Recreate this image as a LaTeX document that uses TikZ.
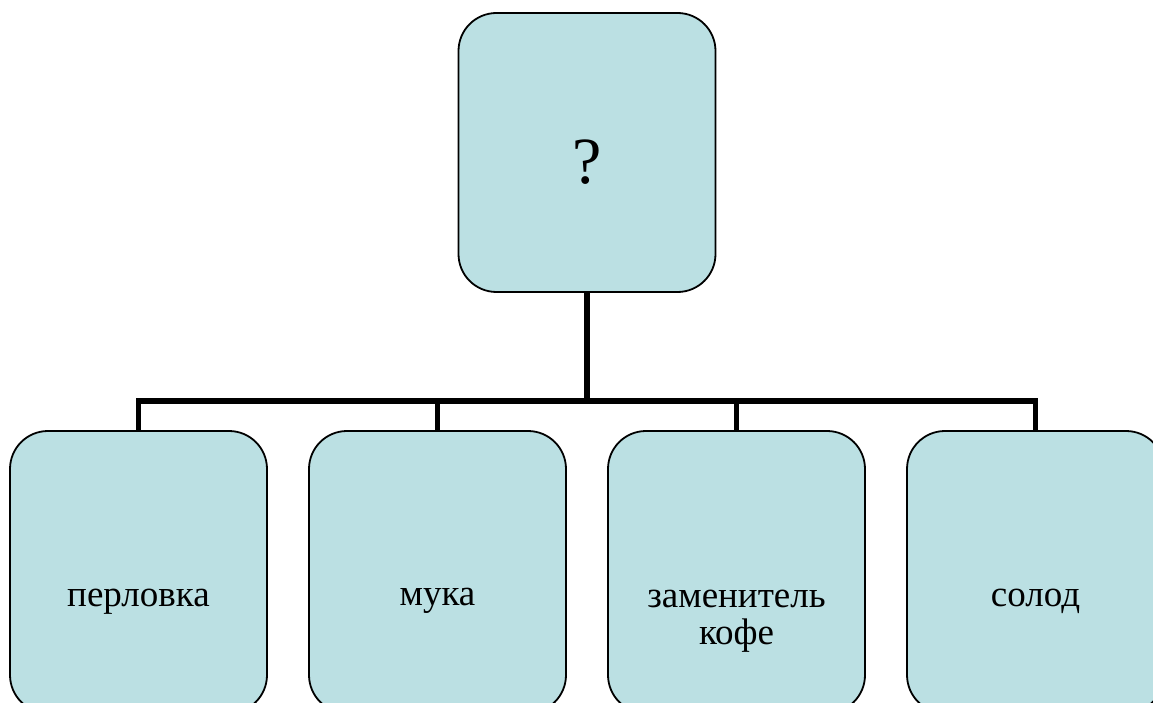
\documentclass[tikz,border=0pt]{standalone}
\usepackage{fontspec}
\setmainfont{Liberation Serif}
\definecolor{boxfill}{RGB}{187,224,227}
\begin{document}
\begin{tikzpicture}[x=1pt,y=-1pt,
  boxstyle/.style={draw=black,line width=1.8pt,fill=boxfill,rounded corners=38pt,
    minimum width=257pt,inner sep=0pt,outer sep=0pt},
  conn/.style={draw=black,line width=5.5pt},
  lbl/.style={font=\fontsize{37}{37}\selectfont,align=center,inner sep=0pt}]
\useasboundingbox (0,0) rectangle (1153,703);
\node[boxstyle,minimum height=279pt] (top) at (587,152.5) {};
\node[boxstyle,minimum height=282pt] (b1) at (138.5,572) {};
\node[boxstyle,minimum height=282pt] (b2) at (437.5,572) {};
\node[boxstyle,minimum height=282pt] (b3) at (736.5,572) {};
\node[boxstyle,minimum height=282pt] (b4) at (1035.5,572) {};
\node[font=\fontsize{66}{70}\selectfont,inner sep=0pt,anchor=base] (q) at ([yshift=-31.5pt]top.center) {?};
\node[lbl,anchor=base] (t1) at ([yshift=-34pt]b1.center) {перловка};
\node[lbl,anchor=base] (t2) at ([yshift=-33pt]b2.center) {мука};
\node[lbl,anchor=base] (t3) at ([yshift=-72pt]b3.center) {заменитель\\кофе};
\node[lbl,anchor=base] (t4) at ([yshift=-34pt]b4.center) {солод};
\coordinate (bus) at (587,401);
\draw[conn] (top.south) -- (top.south |- bus);
\draw[conn] (b1.north) |- (bus) -| (b4.north);
\draw[conn] (b2.north) -- (b2.north |- bus);
\draw[conn] (b3.north) -- (b3.north |- bus);
\end{tikzpicture}
\end{document}
